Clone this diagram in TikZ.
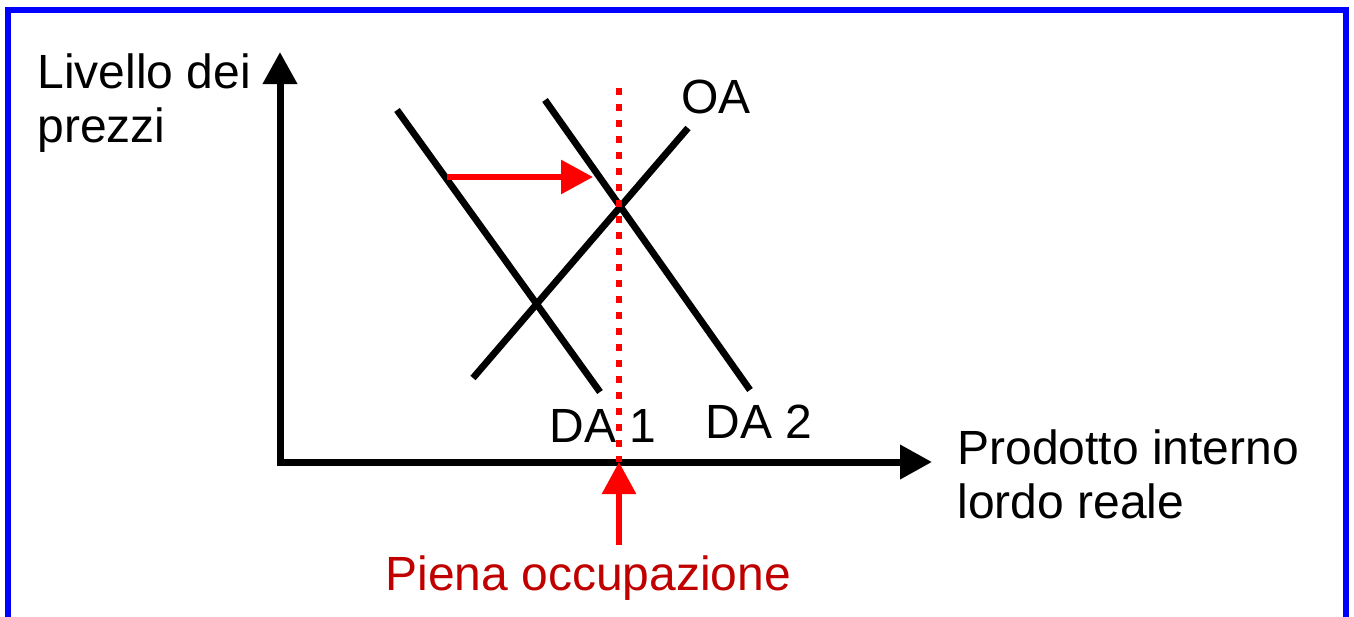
\documentclass[tikz,border=0pt]{standalone}
\usepackage{fontspec}
\setmainfont{Liberation Sans}
\usepackage{tikz}
\usetikzlibrary{arrows.meta,positioning}
\definecolor{FrameBlue}{RGB}{0,0,255}
\definecolor{ShiftRed}{RGB}{255,0,0}
\definecolor{DeepRed}{RGB}{192,0,0}

\begin{document}
\begin{tikzpicture}[x=0.5pt,y=-0.5pt,>={Triangle[length=16pt,width=16.5pt]},
    lbl/.style={font=\fontsize{24}{27}\selectfont,inner sep=0pt,anchor=base west,align=left},
    curve/.style={line width=3.4pt}]
      \useasboundingbox (0,0) rectangle (1354,616);
      \clip (0,0) rectangle (1354,616);
      \draw[FrameBlue,line width=3pt] (8,10) rectangle (1346,700);
      % axes
      \coordinate (O) at (280,462);
      \coordinate (ytip) at (280,52);
      \coordinate (xtip) at (932,462);
      \draw[<->,line width=3.5pt] (ytip) -- (O) -- (xtip);
      \node[lbl] (ylab) at (37,142) {Livello dei\\prezzi};
      \node[lbl] (xlab) at (957,518) {Prodotto interno\\lordo reale};
      % curves
      \coordinate (da1top) at (397,110);
      \coordinate (da1bot) at (600,392);
      \coordinate (da2top) at (545,100);
      \coordinate (da2bot) at (750,390);
      \coordinate (oabot) at (473,378);
      \coordinate (oatop) at (688,128);
      \draw[curve] (da1top) -- (da1bot);
      \draw[curve] (da2top) -- (da2bot);
      \draw[curve] (oabot) -- (oatop);
      \node[lbl] (oa) at (681,113) {OA};
      \node[lbl] (da1) at (549,442) {DA 1};
      \node[lbl] (da2) at (705,438) {DA 2};
      % full employment
      \coordinate (fetop) at (619,88);
      \coordinate (fe) at (619,462);
      \coordinate (febot) at (619,545);
      \draw[ShiftRed,line width=3.2pt,dash pattern=on 3.5pt off 4.5pt] (fetop) -- (fe);
      \draw[->,ShiftRed,line width=3pt] (febot) -- (fe);
      \node[lbl,text=DeepRed] (pieno) at (385,590) {Piena occupazione};
      % shift of demand
      \coordinate (shiftA) at (447,177);
      \coordinate (shiftB) at (593,177);
      \draw[->,ShiftRed,line width=3pt] (shiftA) -- (shiftB);
\end{tikzpicture}
\end{document}
